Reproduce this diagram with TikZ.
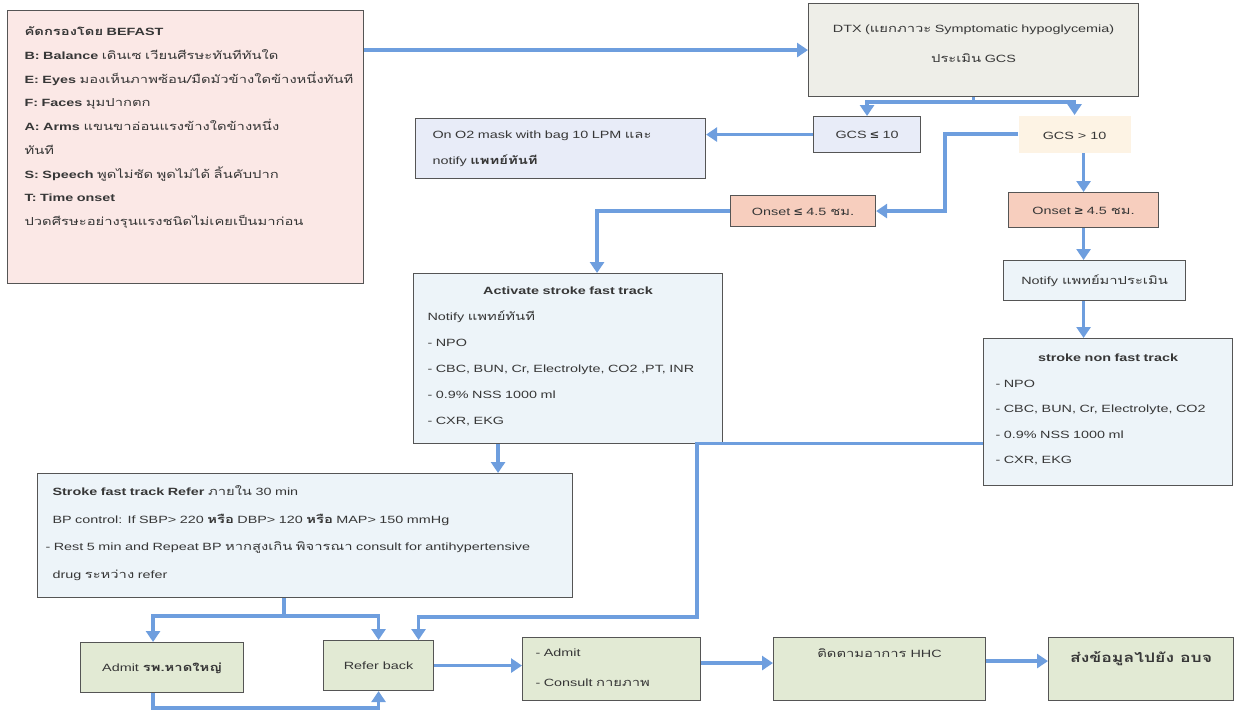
\documentclass[tikz,border=0pt]{standalone}
\usepackage{fontspec}
\setmainfont{Liberation Sans}[FakeStretch=1.37]
\newfontfamily\thaifont[Script=Thai,Scale=1.05,FakeStretch=1.34]{Loma}
\usepackage{xcolor}
\usepackage{tikz}
\usetikzlibrary{arrows.meta}

\newcommand{\thai}[1]{{\thaifont #1}}

\definecolor{pinkfill}{RGB}{251,232,230}
\definecolor{grayfill}{RGB}{238,238,232}
\definecolor{lavfill}{RGB}{232,236,248}
\definecolor{creamfill}{RGB}{253,243,228}
\definecolor{salmonfill}{RGB}{247,206,190}
\definecolor{bluefill}{RGB}{237,244,249}
\definecolor{greenfill}{RGB}{226,234,212}
\definecolor{flowblue}{RGB}{110,158,222}
\definecolor{edge}{RGB}{85,85,85}
\definecolor{ink}{RGB}{55,55,55}

\tikzset{
  box/.style={draw=edge, line width=1.1pt, anchor=north west, inner ysep=0pt,
    inner xsep=4pt, text=ink, align=center, font=\fontsize{10.5}{13}\selectfont},
  link/.style={draw=flowblue, line width=3.6pt},
  flow/.style={link, -{Triangle[length=11pt,width=14pt]}}
}

\begin{document}
\begin{tikzpicture}[x=1pt,y=-1pt]
    \useasboundingbox (0,0) rectangle (1239,717);
    % screening box
    \node[box, fill=pinkfill, text width=322pt, inner xsep=17pt, align=left,
      text height=25pt, text depth=248pt, font=\fontsize{10.5}{23.75}\selectfont] (befast) at (7,10)
      {\textbf{\thai{คัดกรองโดย} BEFAST}\\
       \textbf{B: Balance} \thai{เดินเซ เวียนศีรษะทันทีทันใด}\\
       \textbf{E: Eyes} \thai{มองเห็นภาพซ้อน/มืดมัวข้างใดข้างหนึ่งทันที}\\
       \textbf{F: Faces} \thai{มุมปากตก}\\
       \textbf{A: Arms} \thai{แขนขาอ่อนแรงข้างใดข้างหนึ่ง}\\
       \thai{ทันที}\\
       \textbf{S: Speech} \thai{พูดไม่ชัด พูดไม่ได้ ลิ้นคับปาก}\\
       \textbf{T: Time onset}\\
       \thai{ปวดศีรษะอย่างรุนแรงชนิดไม่เคยเป็นมาก่อน}};
    \node[box, fill=grayfill, text width=310pt, inner xsep=10pt,
      text height=29pt, text depth=64pt, font=\fontsize{10.5}{30}\selectfont] (dtx) at (808,3)
      {DTX (\thai{แยกภาวะ} Symptomatic hypoglycemia)\\ \thai{ประเมิน} GCS};
    % GCS split
    \node[box, fill=lavfill, minimum width=107pt, text height=22pt, text depth=14pt] (gcslow) at (813,116) {GCS \textbf{≤} 10};
    \node[box, draw=none, fill=creamfill, minimum width=112pt, text height=24pt, text depth=13pt] (gcshigh) at (1018,115) {GCS > 10};
    \node[box, fill=lavfill, text width=256pt, inner xsep=17pt, align=left,
      text height=20pt, text depth=40pt, font=\fontsize{10.5}{26}\selectfont] (oxygen) at (415,118)
      {On O2 mask with bag 10 LPM \thai{และ}\\ notify \textbf{\thai{แพทย์ทันที}}};
    \node[box, fill=salmonfill, minimum width=145pt, text height=20pt, text depth=11pt] (onsetlow) at (730,195) {Onset \textbf{≤} 4.5 \thai{ชม.}};
    \node[box, fill=salmonfill, minimum width=150pt, text height=22pt, text depth=13pt] (onsethigh) at (1008,192) {Onset \textbf{≥} 4.5 \thai{ชม.}};
    % fast track / non fast track
    \node[box, fill=bluefill, text width=281pt, inner xsep=14pt, align=left,
      text height=21pt, text depth=149pt, font=\fontsize{10.5}{26}\selectfont] (fast) at (413,273)
      {\makebox[\linewidth]{\textbf{Activate stroke fast track}}\\
       Notify \thai{แพทย์ทันที}\\
       - NPO\\
       - CBC, BUN, Cr, Electrolyte, CO2 ,PT, INR\\
       - 0.9\% NSS 1000 ml\\
       - CXR, EKG};
    \node[box, fill=bluefill, minimum width=182pt, text height=24pt, text depth=16pt] (notify) at (1003,260) {Notify \thai{แพทย์มาประเมิน}};
    \node[box, fill=bluefill, text width=225pt, inner xsep=12pt, align=left,
      text height=23pt, text depth=124pt, font=\fontsize{10.5}{25.5}\selectfont] (nonfast) at (983,338)
      {\makebox[\linewidth]{\textbf{stroke non fast track}}\\
       - NPO\\
       - CBC, BUN, Cr, Electrolyte, CO2\\
       - 0.9\% NSS 1000 ml\\
       - CXR, EKG};
    \node[box, fill=bluefill, text width=505pt, inner xsep=15pt, align=left,
      text height=22pt, text depth=102pt, font=\fontsize{10.5}{27.7}\selectfont] (refer) at (37,473)
      {\textbf{Stroke fast track Refer} \thai{ภายใน} 30 min\\
       BP control: If SBP> 220 \textbf{\thai{หรือ}} DBP> 120 \textbf{\thai{หรือ}} MAP> 150 mmHg\\
       \hspace*{-7pt}- Rest 5 min and Repeat BP \thai{หากสูงเกิน พิจารณา} consult for antihypertensive\\
       drug \thai{ระหว่าง} refer};
    % bottom row
    \node[box, fill=greenfill, minimum width=163pt, text height=29pt, text depth=21pt] (admit) at (80,642) {Admit \textbf{\thai{รพ.หาดใหญ่}}};
    \node[box, fill=greenfill, minimum width=110pt, text height=29pt, text depth=21pt] (referback) at (323,640) {Refer back};
    \node[box, fill=greenfill, text width=152pt, inner xsep=13pt, align=left,
      text height=19pt, text depth=44pt, font=\fontsize{10.5}{30}\selectfont] (consult) at (522,637)
      {- Admit\\ - Consult \thai{กายภาพ}};
    \node[box, fill=greenfill, minimum width=212pt, text height=20pt, text depth=43pt] (hhc) at (773,637) {\thai{ติดตามอาการ} HHC};
    \node[box, fill=greenfill, minimum width=185pt, text height=25pt, text depth=38pt,
      font=\fontsize{12.5}{15}\selectfont\bfseries] (data) at (1048,637) {\thai{ส่งข้อมูลไปยัง อบจ}};

    % connectors
    \draw[flow] (dtx.west -| befast.east) -- (dtx.west);
    \draw[flow] (dtx.south) -- ++(0,5) -| (gcslow.north);
    \draw[flow] (dtx.south) -- ++(0,5) -| (gcshigh.north);
    \draw[flow] (gcslow.west) -- (gcslow.west -| oxygen.east);
    \draw[flow] (gcshigh.west) -- ++(-73,0) |- (onsetlow.east);
    \draw[flow] (onsethigh.north |- gcshigh.south) -- (onsethigh.north);
    \draw[flow] (onsetlow.west) -| ([xshift=29pt]fast.north);
    \draw[flow] (onsethigh.south) -- (onsethigh.south |- notify.north);
    \draw[flow] (onsethigh.south |- notify.south) -- (onsethigh.south |- nonfast.north);
    \draw[flow] ([xshift=-70pt]fast.south) -- ([xshift=-70pt]fast.south |- refer.north);
    \path ([xshift=-21pt]refer.south) ++(0,18) coordinate (fork);
    \draw[link] ([xshift=-21pt]refer.south) -- (fork);
    \draw[flow] (fork) -| ([xshift=-9pt]admit.north);
    \draw[flow] (fork) -| (referback.north);
    \coordinate (bend) at (697,617);
    \draw[flow] ([yshift=-31.5pt]nonfast.west) -| (bend) -| ([xshift=40pt]referback.north);
    \draw[flow] ([xshift=-9pt]admit.south) -- ++(0,15) -| (referback.south);
    \draw[flow] (referback.east) -- (referback.east -| consult.west);
    \draw[flow] ([yshift=6pt]consult.east) -- ([yshift=6pt]consult.east -| hhc.west);
    \draw[flow] ([yshift=8pt]hhc.east) -- ([yshift=8pt]hhc.east -| data.west);
\end{tikzpicture}
\end{document}
